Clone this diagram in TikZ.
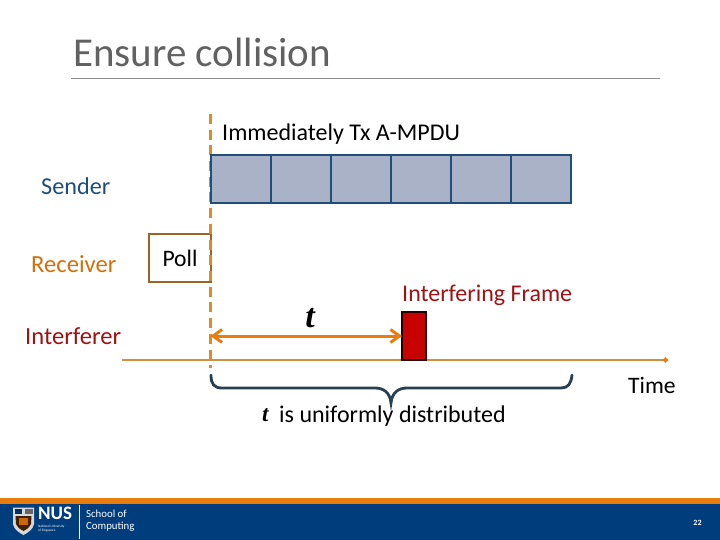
\documentclass[tikz,border=0pt]{standalone}
\usepackage{fontspec}
\setmainfont{Carlito}
\newfontfamily\tfont{Liberation Serif}
\usetikzlibrary{arrows.meta,positioning}
\definecolor{nusblue}{HTML}{003D7C}
\definecolor{nusorange}{HTML}{E87D0E}
\definecolor{labelblue}{HTML}{1F4E79}
\definecolor{darkred}{HTML}{9C1414}
\definecolor{lineorange}{HTML}{CF9040}
\definecolor{bracecol}{HTML}{2A3F54}
\definecolor{pollbrown}{HTML}{9A6424}
\definecolor{cellfill}{HTML}{AAB2C8}
\definecolor{dashorange}{HTML}{DD8A28}
\tikzset{
  x=1pt,y=-1pt,
  lbl/.style={inner sep=0pt,anchor=center,font=\fontsize{24}{26}\selectfont},
  sidelbl/.style={inner sep=0pt,anchor=west,font=\fontsize{24.6}{26}\selectfont},
  cell/.style={draw=labelblue,line width=2pt,fill=cellfill,minimum width=60pt,minimum height=48pt,inner sep=0pt,outer sep=0pt,anchor=north west},
  tvar/.style={inner sep=0pt,font=\tfont\fontsize{#1}{#1}\selectfont\bfseries\itshape},
  tvar/.default={21}
}
\begin{document}
\begin{tikzpicture}
\useasboundingbox (0,0) rectangle (720,540);
\fill[white] (0,0) rectangle (720,540);
% title
\node[inner sep=0pt,anchor=west,text=black!62,font=\fontsize{41}{46}\selectfont] (title) at (73,52) {Ensure collision};
\coordinate (ruleL) at (71,78); \coordinate (ruleR) at (660,78);
\draw[black!45,line width=0.7pt] (ruleL) -- (ruleR);
% poll
\node[draw=pollbrown,line width=1.6pt,minimum width=62pt,minimum height=48pt,inner sep=0pt,outer sep=0pt,anchor=north west,font=\fontsize{23.6}{26}\selectfont] (poll) at (149,234) {Poll};
% dashed vertical
\coordinate (vt) at (210.5,114); \coordinate (vb) at (210.5,368);
\draw[dashorange,line width=3pt,dash pattern=on 10pt off 5.7pt] (vt) -- (vb);
% cells
\node[cell] (c1) at (211,155) {};
\node[cell] (c2) at (271,155) {};
\node[cell] (c3) at (331,155) {};
\node[cell] (c4) at (391,155) {};
\node[cell] (c5) at (451,155) {};
\node[cell] (c6) at (511,155) {};
% time axis
\coordinate (tL) at (122,360); \coordinate (tR) at (668,360);
\draw[lineorange,line width=1.6pt,-{Circle[length=5pt,fill=nusorange,color=nusorange]}] (tL) -- (tR);
% interfering frame
\node[draw=black!85!red,fill=red!78!black,line width=1.6pt,minimum width=24pt,minimum height=48pt,inner sep=0pt,outer sep=0pt,anchor=north west] (frame) at (402,312) {};
% t arrow
\path (frame.west) ++(-191.5,0) coordinate (aL);
\draw[nusorange,line width=3pt,{Straight Barb[length=9pt,width=13pt]}-{Straight Barb[length=9pt,width=13pt]}] (aL) -- (frame.west);
% brace
\coordinate (bL) at (211,375); \coordinate (bR) at (572,375); \coordinate (bM) at (391,404);
\draw[bracecol,line width=2.8pt,line cap=round]
  (bL) .. controls (211,384) and (214,388) .. (222,388) -- (375,388)
  .. controls (383,388) and (390,392) .. (391,403)
  .. controls (392,392) and (399,388) .. (407,388) -- (561,388)
  .. controls (568,388) and (571,384) .. (bR);
% labels
\node[lbl,anchor=west] (imm) at (222,134) {Immediately Tx A-MPDU};
\node[sidelbl,text=labelblue,font=\fontsize{24.2}{26}\selectfont] (sender) at (41,186) {Sender};
\node[sidelbl,text=nusorange!90!black] (receiver) at (31,264) {Receiver};
\node[sidelbl,text=darkred] (interferer) at (25,336) {Interferer};
\node[lbl,anchor=west,text=darkred] (iframe) at (402,295) {Interfering Frame};
\node[lbl,anchor=west,font=\fontsize{23.6}{26}\selectfont] (time) at (628,385) {Time};
\node[tvar=34] (tt) at (310,318) {t};
\node[tvar=23,anchor=west] (t2) at (262,415) {t};
\node[lbl,anchor=west] (dist) at (279,416) {is uniformly distributed};
% footer
\fill[nusorange] (0,498) rectangle (720,504);
\fill[nusblue] (0,504) rectangle (720,540);
\node[inner sep=0pt,anchor=west,text=white,font=\bfseries\fontsize{19}{19}\selectfont] (nus) at (38,513.5) {NUS};
\node[inner sep=0pt,anchor=west,text=white,align=left,font=\fontsize{3.4}{4.2}\selectfont] (natl) at (38,529) {National University\\of Singapore};
\coordinate (sepT) at (79,505); \coordinate (sepB) at (79,539);
\draw[white,line width=0.8pt] (sepT) -- (sepB);
\node[inner sep=0pt,anchor=west,text=white,align=left,font=\fontsize{10.8}{11.5}\selectfont] (soc) at (86,520.5) {School of\\Computing};
\node[inner sep=0pt,text=white,font=\bfseries\fontsize{8}{8}\selectfont] (page) at (697.5,523) {22};
% crest
\fill[white!85!black] (13,507.5) -- (34,507.5) -- (34,524) .. controls (33,530) and (27,533) .. (23.5,535) .. controls (20,533) and (14,530) .. (13,524) -- cycle;
\fill[nusblue!80!black] (14.5,509) rectangle (22,514);
\fill[black!60] (25,509) rectangle (32.5,514);
\fill[black!75!orange] (15.5,516) -- (31.5,516) -- (31,524) .. controls (29,528) and (26,530) .. (23.5,531) .. controls (21,530) and (18,528) .. (16,524) -- cycle;
\fill[orange!80!black] (19,518) rectangle (28,525);
\end{tikzpicture}
\end{document}
